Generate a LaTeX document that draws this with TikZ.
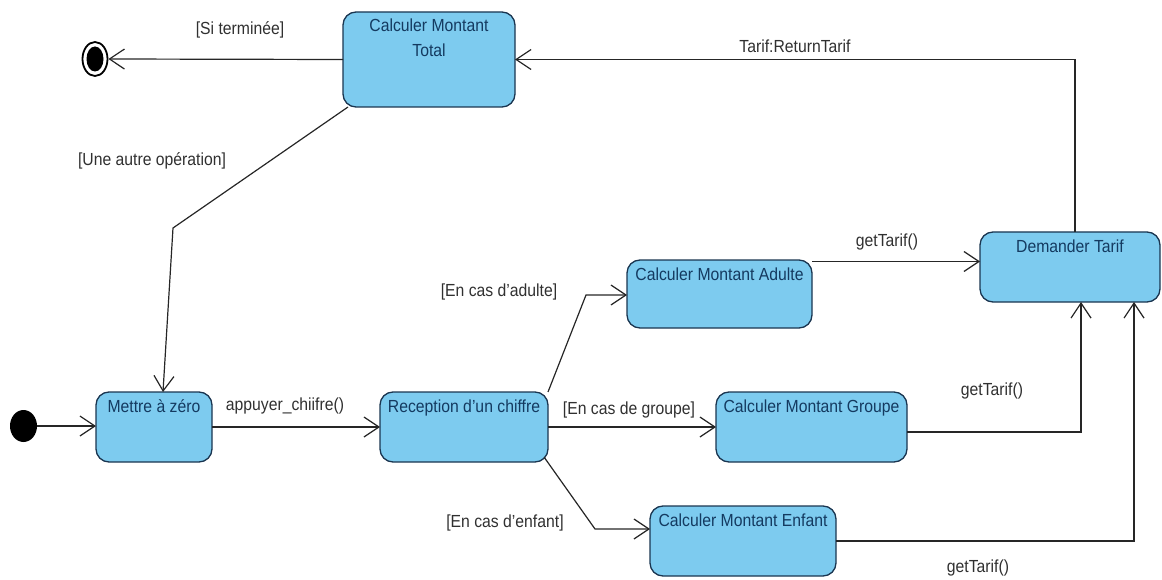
\documentclass[tikz,border=0pt]{standalone}
\usepackage{fontspec}
\setmainfont{Liberation Sans}
\usetikzlibrary{arrows.meta,shapes.geometric}
\definecolor{fillc}{HTML}{7DCBEF}
\definecolor{bordc}{HTML}{1A3550}
\definecolor{txtc}{HTML}{143A60}
\definecolor{labc}{HTML}{303030}
\newcommand\nr[1]{\scalebox{0.9}[1]{#1}}
\begin{document}
\begin{tikzpicture}[x=1pt,y=-1pt,
 st/.style={draw=bordc, fill=fillc, line width=1.3pt, rounded corners=13pt, inner sep=0pt, outer sep=0pt, anchor=north west, text=txtc, text height=20pt, font=\fontsize{17.5}{25}\selectfont},
 lab/.style={inner sep=0pt, text=labc, font=\fontsize{17.5}{25}\selectfont},
 arr/.style={draw=black!85, line width=1.2pt, -{Straight Barb[length=15pt,width=20pt]}}]
\useasboundingbox (0,0) rectangle (1162,580);

\node[st, minimum width=172pt, minimum height=95pt, text depth=75pt] (total) at (343,12) {\nr{\begin{tabular}[t]{@{}c@{}}Calculer Montant\\Total\end{tabular}}};
\node[st, minimum width=116pt, minimum height=70pt, text depth=50pt] (mettre) at (96,392) {\nr{Mettre à zéro}};
\node[st, minimum width=168pt, minimum height=70pt, text depth=50pt] (recep) at (380,392) {\nr{Reception d'un chiffre}};
\node[st, minimum width=185pt, minimum height=68pt, text depth=48pt] (adulte) at (627,260) {\nr{Calculer Montant Adulte}};
\node[st, minimum width=180pt, minimum height=70pt, text depth=50pt] (demander) at (980,232) {\nr{Demander Tarif}};
\node[st, minimum width=191pt, minimum height=70pt, text depth=50pt] (groupe) at (716,392) {\nr{Calculer Montant Groupe}};
\node[st, minimum width=186pt, minimum height=70pt, text depth=50pt] (enfant) at (650,506) {\nr{Calculer Montant Enfant}};

\node[ellipse, fill=black, minimum width=27pt, minimum height=32pt, inner sep=0pt] (init) at (23.5,426) {};
\node[ellipse, draw=black, line width=1.8pt, fill=white, minimum width=25pt, minimum height=34pt, inner sep=0pt] (fin) at (95,59) {};
\node[ellipse, fill=black, minimum width=17pt, minimum height=25pt, inner sep=0pt] (fininner) at (fin.center) {};

\draw[arr] (init.east) -- (init.east -| mettre.west);
\draw[arr] (mettre.east) -- (recep.west);
\coordinate (b1) at (586,295);
\draw[arr] (recep.north east) -- (b1) -- (b1 -| adulte.west);
\draw[arr] (recep.east) -- (groupe.west);
\coordinate (b2) at (595,529);
\draw[arr] ([shift={(-4,-5)}]recep.south east) -- (b2) -- (b2 -| enfant.west);
\draw[arr] ([yshift=-1.5pt]adulte.north east) coordinate (a1) -- (a1 -| demander.west);
\draw[arr] ([xshift=5pt]demander.north) |- (total.east);
\draw[arr] (total.west) -- (fin.east);
\coordinate (b3) at (173,228);
\draw[arr] ([xshift=5pt]total.south west) -- (b3) -- ([xshift=9pt]mettre.north);
\draw[arr] ([yshift=-5pt]groupe.east) -| ([xshift=11pt]demander.south);
\draw[arr] (enfant.east) -| ([xshift=64pt]demander.south);

\node[lab] (l1) at (240,30) {\nr{[Si terminée]}};
\node[lab] (l2) at (152,161) {\nr{[Une autre opération]}};
\node[lab] (l3) at (795,46) {\nr{Tarif:ReturnTarif}};
\node[lab] (l4) at (887,242) {\nr{getTarif()}};
\node[lab] (l5) at (285,406) {\nr{appuyer\_chiifre()}};
\node[lab] (l6) at (499,292) {\nr{[En cas d'adulte]}};
\node[lab] (l7) at (629,410) {\nr{[En cas de groupe]}};
\node[lab] (l8) at (505,523) {\nr{[En cas d'enfant]}};
\node[lab] (l9) at (992,391) {\nr{getTarif()}};
\node[lab] (l10) at (978,568) {\nr{getTarif()}};
\end{tikzpicture}
\end{document}
